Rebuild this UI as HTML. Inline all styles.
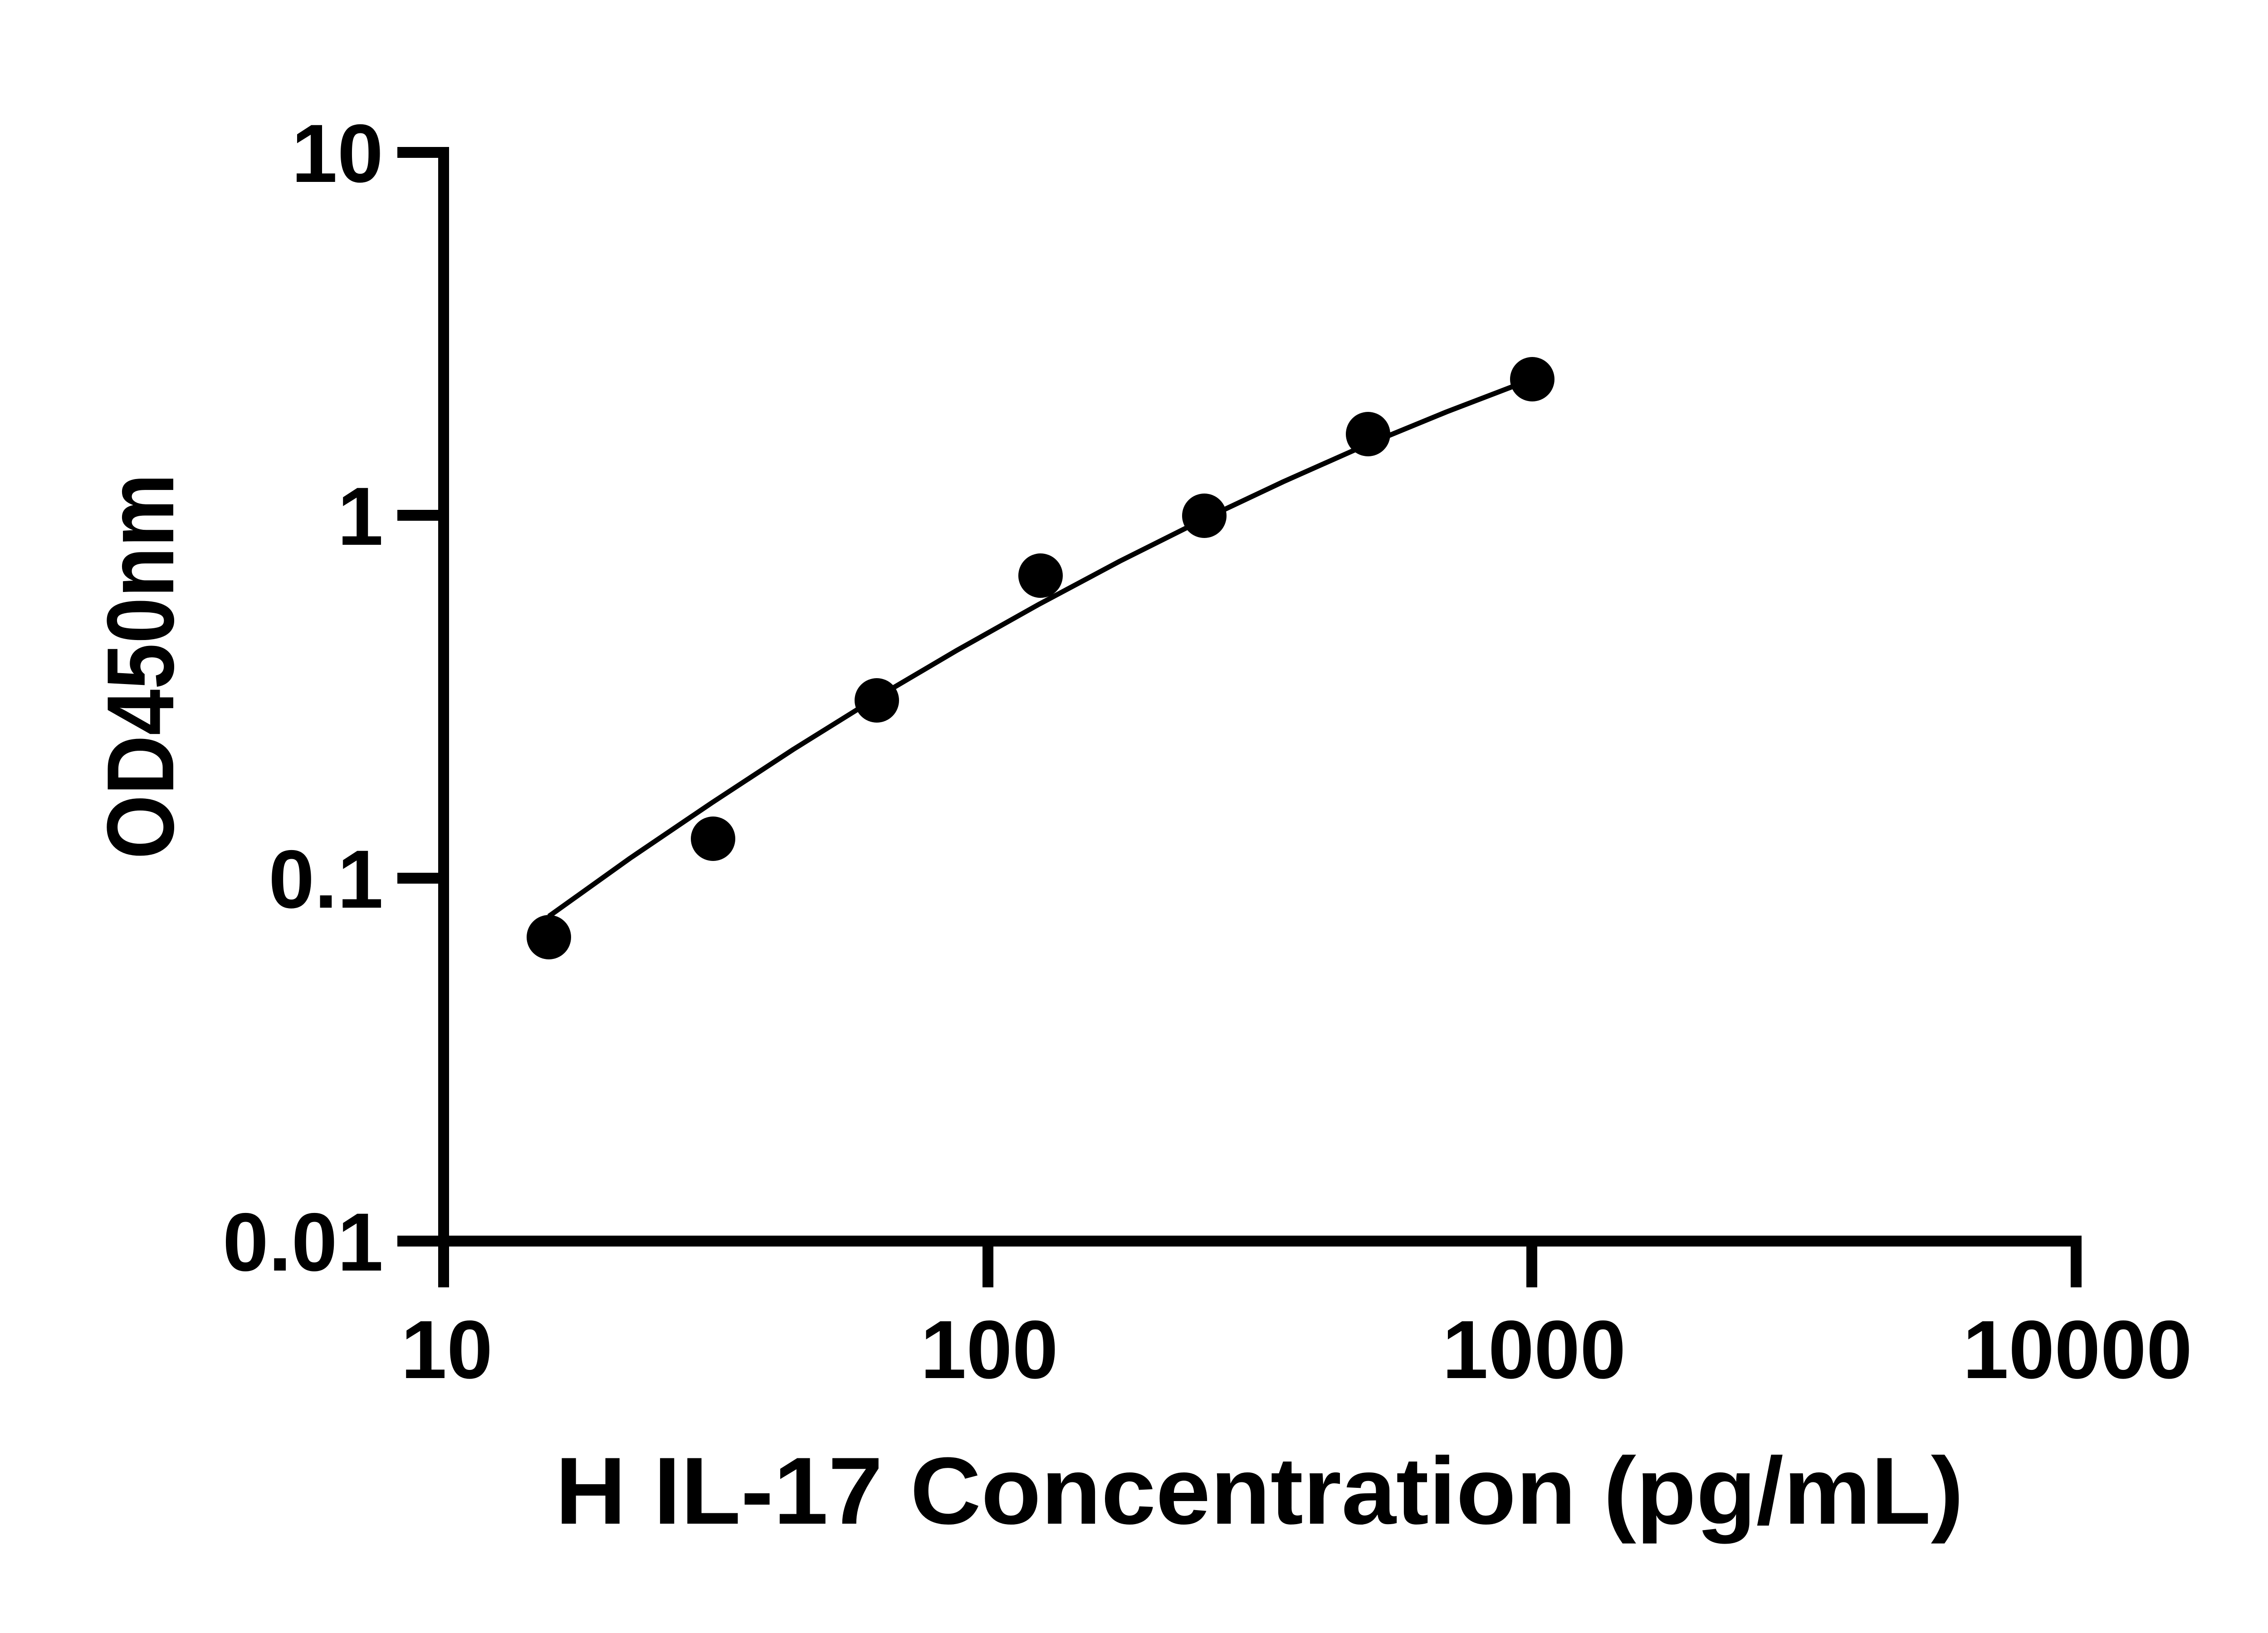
<!DOCTYPE html>
<html><head><meta charset="utf-8"><style>html,body{margin:0;padding:0;background:#fff}svg{display:block}</style></head>
<body>
<svg width="5130" height="3600" viewBox="0 0 5130 3600" xmlns="http://www.w3.org/2000/svg">
<rect width="5130" height="3600" fill="#fff"/>
<g stroke="#000" stroke-width="24" fill="none" stroke-linecap="butt">
<line x1="978" y1="324" x2="978" y2="2838"/>
<line x1="876" y1="2736" x2="4589" y2="2736"/>
<line x1="876" y1="336" x2="990" y2="336"/>
<line x1="876" y1="1136" x2="978" y2="1136"/>
<line x1="876" y1="1936" x2="978" y2="1936"/>
<line x1="2178" y1="2736" x2="2178" y2="2838"/>
<line x1="3377" y1="2736" x2="3377" y2="2838"/>
<line x1="4577" y1="2724" x2="4577" y2="2838"/>
</g>
<polyline fill="none" stroke="#000" stroke-width="11" stroke-linejoin="round" points="1210,2020 1389,1892 1569,1770 1749,1652 1929,1540 2109,1434 2289,1333 2469,1237 2649,1147 2829,1062 3009,982 3189,908 3377,836"/>
<g fill="#000">
<circle cx="1210" cy="2066" r="49"/>
<circle cx="1572" cy="1849" r="49"/>
<circle cx="1933" cy="1544" r="49"/>
<circle cx="2294" cy="1269" r="49"/>
<circle cx="2655" cy="1137" r="49"/>
<circle cx="3016" cy="957" r="49"/>
<circle cx="3378" cy="836" r="49"/>
</g>
<g font-family="Liberation Sans, Arial, sans-serif" font-weight="bold" font-size="182" fill="#000">
<text x="845" y="401" text-anchor="end">10</text>
<text x="845" y="1201" text-anchor="end">1</text>
<text x="845" y="2001" text-anchor="end">0.1</text>
<text x="845" y="2801" text-anchor="end">0.01</text>
<text x="985" y="3038" text-anchor="middle">10</text>
<text x="2181" y="3038" text-anchor="middle">100</text>
<text x="3382" y="3038" text-anchor="middle">1000</text>
<text x="4580" y="3038" text-anchor="middle">10000</text>
</g>
<g font-family="Liberation Sans, Arial, sans-serif" font-weight="bold" font-size="210" fill="#000">
<text x="1224" y="3359" textLength="3105" lengthAdjust="spacingAndGlyphs">H IL-17 Concentration (pg/mL)</text>
<text transform="translate(382,1894) rotate(-90)" x="0" y="0" textLength="850" lengthAdjust="spacingAndGlyphs">OD450nm</text>
</g>
</svg>
</body></html>
